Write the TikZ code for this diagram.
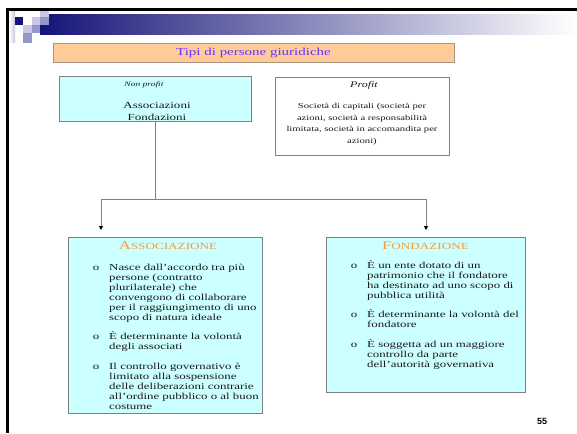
\documentclass[tikz,border=0pt]{standalone}
\usepackage{fontspec}
\setmainfont{Liberation Serif}[FakeStretch=1.4]
\newfontfamily\numfont{Liberation Sans}
\usetikzlibrary{arrows.meta, positioning}
\definecolor{navy}{RGB}{20,20,120}
\definecolor{lav}{RGB}{200,200,230}
\definecolor{lavmid}{RGB}{150,150,205}
\definecolor{peach}{RGB}{255,204,153}
\definecolor{peachline}{RGB}{170,150,130}
\definecolor{violet}{RGB}{102,51,255}
\definecolor{lightcyan}{RGB}{204,255,255}
\definecolor{boxgray}{RGB}{128,128,128}
\definecolor{headorange}{RGB}{255,153,51}
\definecolor{bodytext}{RGB}{25,25,25}
\newcommand{\intest}[2]{{\fontsize{12}{12}\selectfont #1\fontsize{9.4}{12}\selectfont #2}}
\newcommand{\punto}[4]{%
  \node[voce, anchor=north west] (#1) at (#2, #3) {\rule{0pt}{9pt}#4};
  \node[voce, anchor=north] (#1o) at ([xshift=-13pt]#1.north west) {\rule{0pt}{9pt}o};
}
\tikzset{
  voce/.style={inner sep=0pt, align=left, text=bodytext, font=\fontsize{9.2}{10}\selectfont},
  cyanbox/.style={draw=boxgray, fill=lightcyan, line width=0.8pt, inner sep=0pt, anchor=north west},
  conn/.style={draw=boxgray, line width=0.9pt},
}
\begin{document}
\begin{tikzpicture}[x=1pt, y=-1pt]
            \useasboundingbox (0,0) rectangle (577,433);
            \shade[left color=navy, right color=white] (40,15) rectangle (577,35);
            \shade[left color=white, right color=lav] (9,11) rectangle (15,43);
            \fill[navy] (15,17) rectangle (23,25);
            \fill[lav] (32,17) rectangle (40,25);
            \fill[lav] (40,11) rectangle (49,17);
            \fill[lavmid] (40,17) rectangle (49,25);
            \fill[lav] (23,25) rectangle (32,33);
            \fill[lavmid] (32,25) rectangle (40,33);
            \fill[lavmid] (23,33) rectangle (32,43);
            \fill[black] (6,8) rectangle (577,11);
            \fill[black] (6,8) rectangle (9,433);

            \node[draw=peachline, fill=peach, line width=0.8pt, minimum width=401pt, minimum height=19pt,
              text=violet, font=\fontsize{10.7}{12}\selectfont] (title) at (253.5,52.5) {Tipi di persone giuridiche};

            \node[cyanbox, minimum width=192pt, minimum height=45pt] (np) at (59,76) {};
            \node[font=\fontsize{6.8}{8}\selectfont\itshape, text=bodytext, inner sep=0pt] (nplabel) at (144,85) {Non profit};
            \node[font=\fontsize{9.3}{11.5}\selectfont, text=bodytext, align=center, inner sep=0pt] (nptext) at (157,111.5) {Associazioni\\Fondazioni};

            \node[draw=boxgray, line width=0.8pt, inner sep=0pt, anchor=north west,
              minimum width=174pt, minimum height=78pt] (pr) at (275,77) {};
            \node[font=\fontsize{8.6}{10}\selectfont\itshape, text=bodytext, inner sep=0pt] (prlabel) at (364,85) {Profit};
            \node[font=\fontsize{7.6}{11.5}\selectfont, text=bodytext, align=center, inner sep=0pt] (prtext) at (362,124)
              {Società di capitali (società per\\azioni, società a responsabilità\\limitata, società in accomandita per\\azioni)};

            \node[cyanbox, minimum width=194pt, minimum height=176pt] (as) at (68,237) {};
            \node[cyanbox, minimum width=199pt, minimum height=155pt] (fo) at (326,237) {};

            \coordinate (jl) at (101,199);
            \coordinate (jr) at (426,199);
            \coordinate (tl) at (101,230);
            \coordinate (tr) at (426,230);
            \draw[conn] (np.south) -- (np.south |- jl);
            \draw[conn] (jl) -- (jr);
            \draw[conn, -{Triangle[color=black, length=4pt, width=4pt]}] (jl) -- (tl);
            \draw[conn, -{Triangle[color=black, length=4pt, width=4pt]}] (jr) -- (tr);

            \node[text=headorange, inner sep=0pt] (ashead) at (168,246) {\intest{A}{SSOCIAZIONE}};
            \node[text=headorange, inner sep=0pt] (fohead) at (425.5,246) {\intest{F}{ONDAZIONE}};

            \punto{a1}{109}{261.3}{Nasce dall’accordo tra più\\persone (contratto\\plurilaterale) che\\convengono di collaborare\\per il raggiungimento di uno\\scopo di natura ideale}
            \punto{a2}{109}{330.3}{È determinante la volontà\\degli associati}
            \punto{a3}{109}{360.3}{Il controllo governativo è\\limitato alla sospensione\\delle deliberazioni contrarie\\all’ordine pubblico o al buon\\costume}

            \punto{f1}{367}{259.3}{È un ente dotato di un\\patrimonio che il fondatore\\ha destinato ad uno scopo di\\pubblica utilità}
            \punto{f2}{367}{308.3}{È determinante la volontà del\\fondatore}
            \punto{f3}{367}{338.3}{È soggetta ad un maggiore\\controllo da parte\\dell’autorità governativa}

            \node[font=\numfont\bfseries\fontsize{9}{10}\selectfont, inner sep=0pt] (pagenum) at (542,421) {55};
        \end{tikzpicture}
\end{document}
